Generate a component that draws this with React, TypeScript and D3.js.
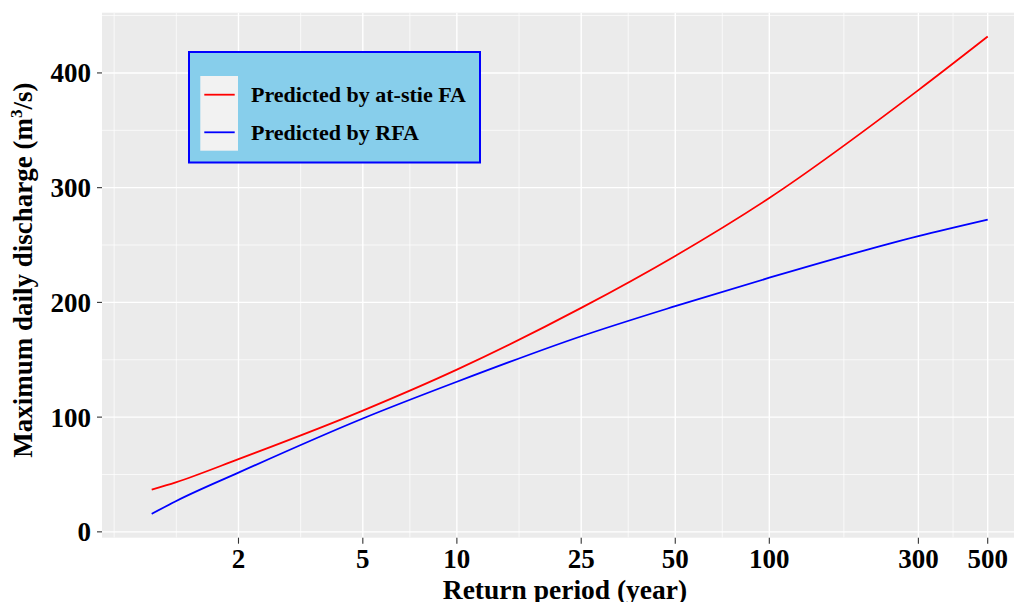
import * as d3 from "d3";

// return period (years) and predicted max daily discharge (m3/s)
const returnPeriod = [1.055, 1.26, 2, 5, 10, 25, 50, 100, 300, 500];
const atSiteFA = [36.8, 43.2, 63.4, 105.7, 141.4, 195.2, 240.5, 291, 385, 431.7];
const rfa = [15.7, 26.7, 51.6, 98.8, 130.8, 170.5, 196.7, 221.5, 257.8, 272.2];

const xBreaks = [2, 5, 10, 25, 50, 100, 300, 500];
const yBreaks = [0, 100, 200, 300, 400];
const yMinor = [50, 150, 250, 350, 450];

const seriesNames = ["Predicted by at-stie FA", "Predicted by RFA"];
const seriesColors = ["red", "blue"];

const W = 1014,
  H = 602;
const panel = { left: 102, top: 12.7, right: 1030, bottom: 537.7 };
const font = "'Liberation Serif', 'Times New Roman', serif";

export default function App() {
  const x = d3
    .scaleLog()
    .domain([returnPeriod[0], returnPeriod[returnPeriod.length - 1]])
    .range([151.7, 987.7]);
  // ggplot-style expanded limits
  const ext = d3.extent([...atSiteFA, ...rfa]) as [number, number];
  const pad = (ext[1] - ext[0]) * 0.05;
  const y = d3
    .scaleLinear()
    .domain([ext[0] - pad, ext[1] + pad])
    .range([panel.bottom, panel.top]);

  // minor x breaks: geometric midpoints between majors, extended one step left
  const lb = xBreaks.map(Math.log10);
  const ext0 = lb[0] - (lb[1] - lb[0]);
  const all = [ext0, ...lb];
  const xMinor: number[] = [Math.pow(10, ext0)];
  for (let i = 0; i < all.length - 1; i++) xMinor.push(Math.pow(10, (all[i] + all[i + 1]) / 2));

  const series = [atSiteFA, rfa];
  const line = (vals: number[]) =>
    d3
      .line<number>()
      .x((_, i) => x(returnPeriod[i]))
      .y((d) => y(d))
      .curve(d3.curveMonotoneX)(vals) as string;

  const panelCx = (102 + 1028) / 2;

  return (
    <svg
      width={W}
      height={H}
      style={{ position: "absolute", left: 0, top: 0, background: "white" }}
      fontFamily={font}
      fontWeight="bold"
    >
      <defs>
        <clipPath id="panel">
          <rect x={panel.left} y={panel.top} width={panel.right - panel.left} height={panel.bottom - panel.top} />
        </clipPath>
      </defs>
      <rect
        x={panel.left}
        y={panel.top}
        width={panel.right - panel.left}
        height={panel.bottom - panel.top}
        fill="#EBEBEB"
      />
      <g clipPath="url(#panel)">
        {yMinor.map((v) => (
          <line key={"ym" + v} x1={panel.left} x2={panel.right} y1={y(v)} y2={y(v)} stroke="white" strokeWidth={0.7} />
        ))}
        {xMinor.map((v) => (
          <line key={"xm" + v} x1={x(v)} x2={x(v)} y1={panel.top} y2={panel.bottom} stroke="white" strokeWidth={0.7} />
        ))}
        {yBreaks.map((v) => (
          <line key={"y" + v} x1={panel.left} x2={panel.right} y1={y(v)} y2={y(v)} stroke="white" strokeWidth={1.4} />
        ))}
        {xBreaks.map((v) => (
          <line key={"x" + v} x1={x(v)} x2={x(v)} y1={panel.top} y2={panel.bottom} stroke="white" strokeWidth={1.4} />
        ))}
        {series.map((s, i) => (
          <path key={i} d={line(s)} fill="none" stroke={seriesColors[i]} strokeWidth={1.8} />
        ))}
      </g>

      {/* y axis */}
      {yBreaks.map((v) => (
        <g key={"yt" + v}>
          <line x1={panel.left - 5} x2={panel.left} y1={y(v)} y2={y(v)} stroke="#333" strokeWidth={1.1} />
          <text x={91} y={y(v) + 9.5} textAnchor="end" fontSize={27} fill="black">
            {v}
          </text>
        </g>
      ))}
      {/* x axis */}
      {xBreaks.map((v) => (
        <g key={"xt" + v}>
          <line x1={x(v)} x2={x(v)} y1={panel.bottom} y2={panel.bottom + 6} stroke="#333" strokeWidth={1.1} />
          <text x={x(v)} y={568.3} textAnchor="middle" fontSize={27} fill="black">
            {v}
          </text>
        </g>
      ))}

      <text x={panelCx} y={598.5} textAnchor="middle" fontSize={27.5} fill="black">
        Return period (year)
      </text>
      <text
        transform={`translate(32,${(panel.top + panel.bottom) / 2 - 5}) rotate(-90)`}
        textAnchor="middle"
        fontSize={27}
        fill="black"
      >
        Maximum daily discharge (m
        <tspan dy={-10} fontSize={17}>
          3
        </tspan>
        <tspan dy={10}>/s)</tspan>
      </text>

      {/* legend */}
      <g>
        <rect x={189} y={52} width={291} height={110.5} fill="#87CEEB" stroke="blue" strokeWidth={2} />
        <rect x={200.3} y={76} width={37.7} height={74.7} fill="#F2F2F2" />
        {seriesNames.map((name, i) => {
          const ky = 94.7 + i * 37.6;
          return (
            <g key={name}>
              <line x1={204.3} x2={234.7} y1={ky} y2={ky} stroke={seriesColors[i]} strokeWidth={1.8} />
              <text x={251} y={ky + 7.5} fontSize={22} fill="black">
                {name}
              </text>
            </g>
          );
        })}
      </g>
    </svg>
  );
}
